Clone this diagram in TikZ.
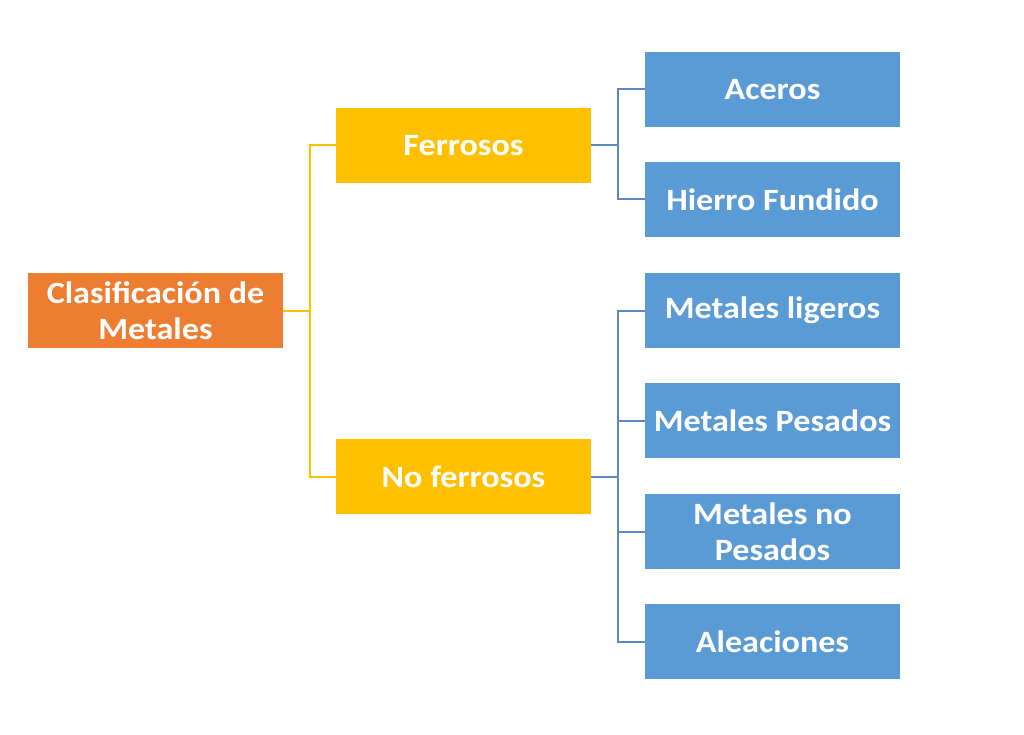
\documentclass[tikz,border=0pt]{standalone}
\usepackage{fontspec}
\setmainfont{Carlito}[FakeStretch=1.1]
\definecolor{corange}{HTML}{ED7D31}
\definecolor{cyellow}{HTML}{FFC000}
\definecolor{cblue}{HTML}{5B9BD5}
\definecolor{cbline}{HTML}{5A8AC0}
\begin{document}
\begin{tikzpicture}[x=1pt,y=-1pt,
  box/.style={minimum width=255pt,minimum height=75pt,inner sep=0pt,text=white,font=\bfseries\fontsize{31}{36}\selectfont,align=center,anchor=center},
  rootbox/.style={box,fill=corange},
  midbox/.style={box,fill=cyellow},
  leafbox/.style={box,fill=cblue},
  yline/.style={draw=cyellow,line width=2pt},
  bline/.style={draw=cbline,line width=2pt}]
\useasboundingbox (0,0) rectangle (1024,735);
\fill[white] (0,0) rectangle (1024,735);
\node[rootbox] (root) at (155.5,310.5) {Clasificación de\\Metales};
\node[midbox] (fe) at (463.5,145.5) {Ferrosos};
\node[midbox] (nf) at (463.5,476.5) {No ferrosos};
\node[leafbox] (ac) at (772.5,89.5) {Aceros};
\node[leafbox] (hf) at (772.5,199.5) {Hierro Fundido};
\node[leafbox] (ml) at (772.5,310.5) {Metales ligeros};
\node[leafbox] (mp) at (772.5,420.5) {Metales Pesados};
\node[leafbox] (mn) at (772.5,531.5) {Metales no\\Pesados};
\node[leafbox] (al) at (772.5,641.5) {Aleaciones};
\coordinate (j1) at (310,310.5);
\coordinate (j2) at (618,145.5);
\coordinate (j3) at (618,476.5);
\draw[yline] (root.east) -- (j1);
\draw[yline] (fe.west) -| (j1) |- (nf.west);
\draw[bline] (fe.east) -- (j2);
\draw[bline] (ac.west) -| (j2) |- (hf.west);
\draw[bline] (nf.east) -- (j3);
\draw[bline] (ml.west) -| (j3) |- (al.west);
\draw[bline] (mp.west) -- (mp.west -| j3);
\draw[bline] (mn.west) -- (mn.west -| j3);
\end{tikzpicture}
\end{document}
